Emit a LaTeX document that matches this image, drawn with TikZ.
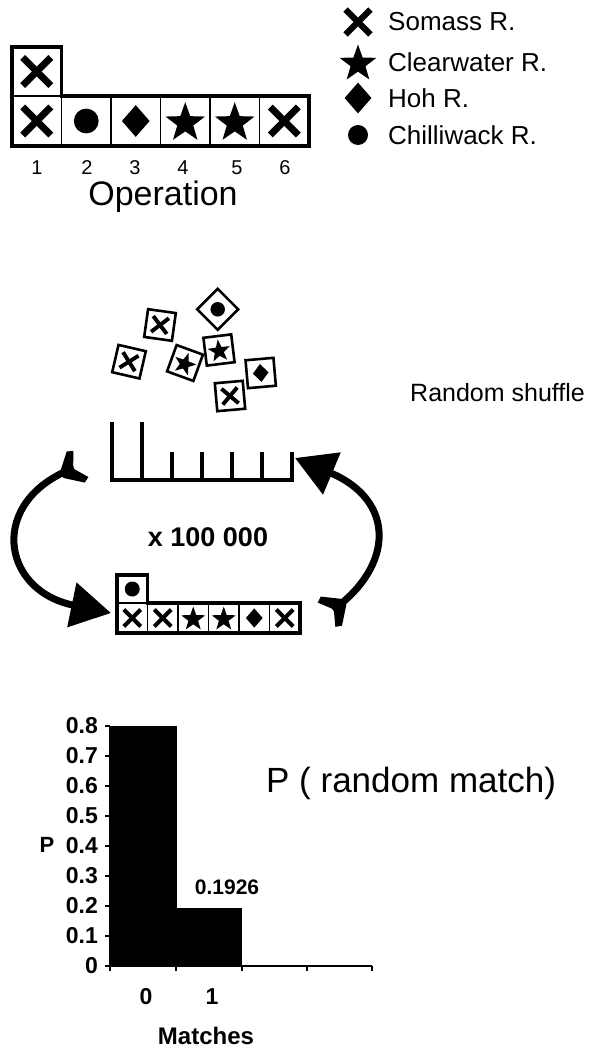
\documentclass[tikz,border=0pt]{standalone}
\usepackage{fontspec}
\setmainfont{Liberation Sans}
\usetikzlibrary{arrows.meta}
\tikzset{
 xsym/.pic={\fill[rotate=45] (-0.4,-0.07) rectangle (0.4,0.07); \fill[rotate=-45] (-0.4,-0.07) rectangle (0.4,0.07);},
 starsym/.pic={\fill[shift={(0,-0.04)}] (90:.42)--(126:.17)--(162:.42)--(198:.17)--(234:.42)--(270:.17)--(306:.42)--(342:.17)--(18:.42)--(54:.17)--cycle;},
 diasym/.pic={\fill (0,.32)--(.28,0)--(0,-.32)--(-.28,0)--cycle;},
 dotsym/.pic={\fill (0,0) circle (.25);},
 tilebox/.pic={\draw[line width=2.6pt] (-.5,-.5) rectangle (.5,.5);},
 swallow/.pic={\fill (-14,-3.5) -- (-14,3.5) -- (2,18) -- (8,15) -- (-1,0) -- (8,-15) -- (2,-18) -- cycle;},
 lbl/.style={inner sep=0pt, font=\fontsize{26}{30}\selectfont},
 bigtxt/.style={inner sep=0pt, font=\fontsize{#1}{#1}\selectfont},
 boldtxt/.style={inner sep=0pt, font=\bfseries\fontsize{#1}{#1}\selectfont},
 thinbox/.style={line width=1.6pt},
 thickbox/.style={line width=3.8pt, line join=miter},
 cyc/.style={line width=7pt},
 axisline/.style={line width=2pt},
}
\newcommand{\symb}[5]{\pic[shift={(#2,#3)},rotate=#5,scale=#4] at (0,0) {#1};}
\begin{document}
\begin{tikzpicture}[x=1pt,y=1pt]
\fill[white] (0,0) rectangle (594,-1049);
\useasboundingbox (0,0) rectangle (594,-1049);
% ---------- top panel ----------
\foreach \i in {0,...,5} \draw[thinbox] ({12+49.5*\i},-96) rectangle ++(49.5,-50);
\draw[thinbox] (12,-47) rectangle (61.5,-96);
\draw[thickbox] (12,-47) -- (61.5,-47) -- (61.5,-96) -- (309,-96) -- (309,-146) -- (12,-146) -- cycle;
\symb{xsym}{36.75}{-71.5}{49.5}{0}
\symb{xsym}{36.75}{-121}{49.5}{0}
\symb{dotsym}{86.25}{-121}{49.5}{0}
\symb{diasym}{135.75}{-121}{49.5}{0}
\symb{starsym}{185.25}{-121}{49.5}{0}
\symb{starsym}{234.75}{-121}{49.5}{0}
\symb{xsym}{284.25}{-121}{49.5}{0}
\foreach \xx/\n in {37/1,87/2,135/3,183/4,237/5,285/6}
  \node[bigtxt=20] (num\n) at (\xx,-168) {\n};
\node[bigtxt=34] (oper) at (163,-197) {Operation};
% ---------- legend ----------
\symb{xsym}{358}{-22}{44}{0}
\symb{starsym}{358}{-62}{46}{0}
\symb{diasym}{358}{-98}{48}{0}
\symb{dotsym}{358}{-135}{40}{0}
\node[lbl, anchor=west] (leg1) at (388,-22) {Somass R.};
\node[lbl, anchor=west] (leg2) at (388,-62) {Clearwater R.};
\node[lbl, anchor=west] (leg3) at (388,-98) {Hoh R.};
\node[lbl, anchor=west] (leg4) at (388,-135) {Chilliwack R.};
% ---------- shuffled tiles ----------
\symb{tilebox}{217.7}{-309.3}{29}{45}\symb{dotsym}{217.7}{-309.3}{29}{45}
\symb{tilebox}{160}{-325}{28}{-8}\symb{xsym}{160}{-325}{28}{-8}
\symb{tilebox}{129}{-361.7}{28}{-13}\symb{xsym}{129}{-361.7}{28}{-13}
\symb{tilebox}{185}{-363}{28}{-20}\symb{starsym}{185}{-363}{28}{-20}
\symb{tilebox}{219}{-350}{28}{7}\symb{starsym}{219}{-350}{28}{7}
\symb{tilebox}{260.7}{-373}{28}{5}\symb{diasym}{260.7}{-373}{28}{5}
\symb{tilebox}{230}{-396}{28}{5}\symb{xsym}{230}{-396}{28}{5}
\node[bigtxt=25, anchor=west] (shuf) at (410,-393) {Random shuffle};
% ---------- empty row ----------
\draw[line width=3.5pt] (112,-422) -- (112,-480) -- (292,-480) -- (292,-452);
\draw[line width=3.5pt] (142,-422) -- (142,-480);
\foreach \xx in {172,202,232,262} \draw[line width=3.5pt] (\xx,-452) -- (\xx,-480);
\node[boldtxt=27] (rep) at (208,-537) {x 100 000};
% ---------- filled row ----------
\foreach \i in {0,...,5} \draw[thinbox] ({117+30.5*\i},-603) rectangle ++(30.5,-30);
\draw[thinbox] (117,-575) rectangle (147.5,-603);
\draw[thickbox] (117,-575) -- (147.5,-575) -- (147.5,-603) -- (300,-603) -- (300,-633) -- (117,-633) -- cycle;
\symb{dotsym}{132.25}{-589}{30}{0}
\symb{xsym}{132.25}{-618}{30}{0}
\symb{xsym}{162.75}{-618}{30}{0}
\symb{starsym}{193.25}{-618}{30}{0}
\symb{starsym}{223.75}{-618}{30}{0}
\symb{diasym}{254.25}{-618}{30}{0}
\symb{xsym}{284.75}{-618}{30}{0}
% ---------- cycle arrows ----------
\coordinate (Ltail) at (74,-468);
\coordinate (Lhead) at (111,-613);
\coordinate (Rtail) at (333,-610);
\coordinate (Rhead) at (295,-458);
\draw[cyc, -{Triangle[length=40pt,width=44pt]}]
  (Ltail) .. controls (-12,-500) and (0,-590) .. (Lhead);
\draw[cyc, -{Triangle[length=40pt,width=44pt]}]
  (Rtail) .. controls (395,-565) and (395,-500) .. (Rhead);
\symb{swallow}{74}{-468}{1}{30}
\symb{swallow}{333}{-610}{1}{216}
% ---------- histogram ----------
\fill (110,-965.7) rectangle (176.7,-725.7);
\fill (176.7,-965.7) rectangle (242.3,-907.9);
\draw[axisline] (110,-725.7) -- (110,-965.7) -- (372,-965.7);
\foreach \k in {0,...,8} {
  \draw[axisline] (105,{-965.7+30*\k}) -- (110,{-965.7+30*\k});
}
\foreach \k/\t in {0/0,1/0.1,2/0.2,3/0.3,4/0.4,5/0.5,6/0.6,7/0.7,8/0.8}
  \node[boldtxt=23, anchor=east] (yl\k) at (98,{-965.7+30*\k}) {\t};
\foreach \xx in {110,176.3,242.3,307.3,372} \draw[axisline] (\xx,-965.7) -- (\xx,-971);
\node[boldtxt=22] (ylab) at (47,-845) {P};
\node[boldtxt=23] (xl0) at (146,-997) {0};
\node[boldtxt=23] (xl1) at (212,-997) {1};
\node[boldtxt=24] (xlab) at (206,-1036) {Matches};
\node[boldtxt=21] (val) at (227,-887) {0.1926};
\node[bigtxt=35, anchor=west] (prm) at (266,-783) {P ( random match)};
\end{tikzpicture}
\end{document}
